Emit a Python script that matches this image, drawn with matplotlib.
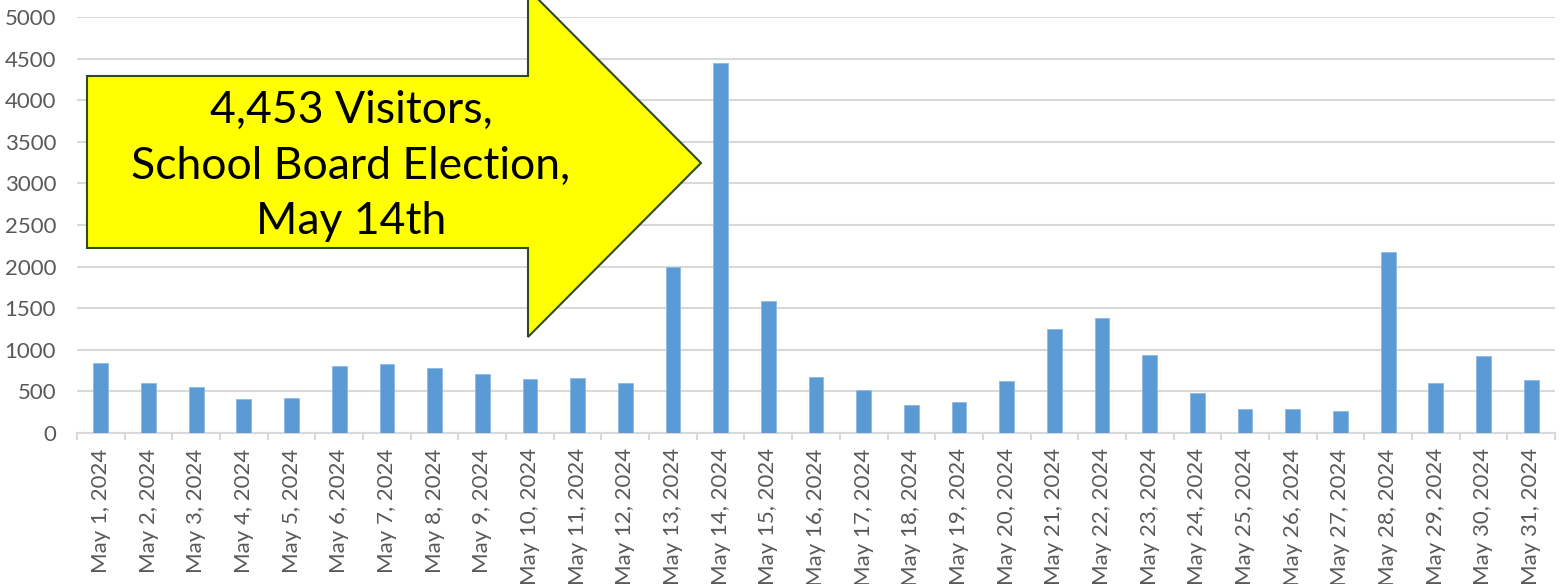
import numpy as np
import matplotlib
matplotlib.use("Agg")
from matplotlib import pyplot as plt
from matplotlib.patches import Polygon

# daily visitors, May 2024
days = list(range(1, 32))
labels = ["May %d, 2024" % d for d in days]
visitors = [840, 596, 548, 408, 416, 804, 832, 780, 704, 644, 660, 600, 2000, 4453, 1584,
            676, 516, 340, 376, 624, 1252, 1384, 940, 484, 288, 284, 268, 2176, 604, 924, 640]

callout = "4,453 Visitors,\nSchool Board Election,\nMay 14th"

plt.rcParams['font.family'] = ['Lato', 'DejaVu Sans']

W, H = 1567, 584
fig = plt.figure(figsize=(W / 100, H / 100), dpi=100)
ax = fig.add_axes([77 / W, 1 - 433 / H, (1555 - 77) / W, (433 - 17) / H])

x = np.arange(len(visitors))
ax.bar(x, visitors, width=0.31, color="#5B9BD5", edgecolor="#8DB9E2", linewidth=0.6, zorder=3)

ax.set_xlim(-0.5, len(visitors) - 0.5)
ax.set_ylim(0, 5000)
ax.set_yticks(np.arange(0, 5001, 500))
ax.yaxis.grid(True, color="#D9D9D9", linewidth=1.5, zorder=0)
ax.set_axisbelow(True)

ax.set_xticks(x)
ax.set_xticklabels(labels, rotation=90, fontsize=16, color="#595959")
ax.set_xticks(np.arange(-0.5, len(visitors), 1), minor=True)
ax.tick_params(axis="x", which="major", length=0, pad=11)
ax.tick_params(axis="x", which="minor", length=5, width=1.5, color="#D9D9D9")
ax.tick_params(axis="y", length=0, pad=15, labelsize=16, labelcolor="#595959")

for s in ["top", "right", "left"]:
    ax.spines[s].set_visible(False)
ax.spines["bottom"].set_color("#D9D9D9")
ax.spines["bottom"].set_linewidth(1.5)

# yellow callout arrow (pixel coords, top-left origin)
pts = [(87, 76), (528, 76), (528, -11), (701, 163), (528, 337), (528, 248), (87, 248)]
pts = [(px / W, 1 - py / H) for px, py in pts]
arrow = Polygon(pts, closed=True, facecolor="#FFFF00", edgecolor="#2E4A1E", linewidth=1.5,
                transform=fig.transFigure, zorder=5)
fig.patches.append(arrow)
fig.text(351 / W, 1 - 166 / H, callout, ha="center", va="center", fontsize=32,
         linespacing=1.45, color="black", zorder=6)

plt.savefig("out.png", dpi=100)
